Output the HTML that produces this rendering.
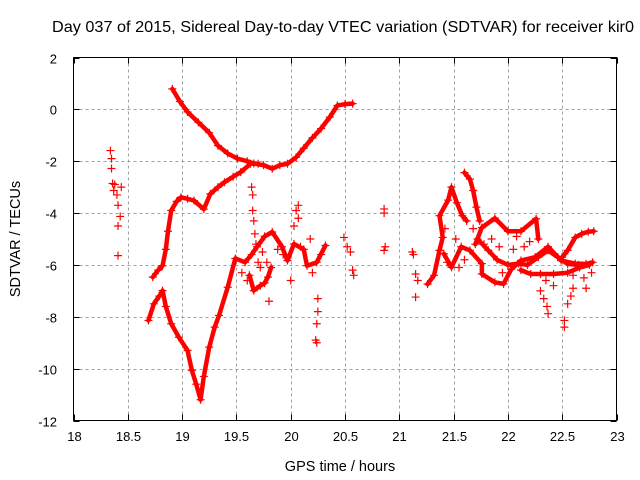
<!DOCTYPE html>
<html><head><meta charset="utf-8">
<style>
html,body{margin:0;padding:0;background:#fff;}
svg{display:block;font-family:"Liberation Sans",sans-serif;}
</style></head>
<body>
<svg id="chart" width="640" height="480" viewBox="0 0 640 480">
  <text x="343" y="32" font-size="16" text-anchor="middle" fill="#000" textLength="582" lengthAdjust="spacingAndGlyphs">Day 037 of 2015, Sidereal Day-to-day VTEC variation (SDTVAR) for receiver kir0</text>
  <g id="grid"></g>
  <g id="ticks"></g>
  <g id="tracks"></g>
  <rect x="73.5" y="57.5" width="543" height="363" fill="none" stroke="#000" stroke-width="1"/>
  <text x="340" y="471" font-size="14.5" text-anchor="middle">GPS time / hours</text>
  <text transform="translate(20,239) rotate(-90)" font-size="14.5" text-anchor="middle">SDTVAR / TECUs</text>
</svg>
<script>
const xTicks = [18,18.5,19,19.5,20,20.5,21,21.5,22,22.5,23];
const xTickLabels = ["18","18.5","19","19.5","20","20.5","21","21.5","22","22.5","23"];
const yTicks = [2,0,-2,-4,-6,-8,-10,-12];
const yTickLabels = ["2","0","-2","-4","-6","-8","-10","-12"];

// Continuous tracks: [hour, TECU]
const trackDescending = [[18.91,0.79],[18.98,0.3],[19.05,-0.1],[19.15,-0.5],[19.25,-0.9],[19.33,-1.4],[19.42,-1.7],[19.51,-1.9],[19.6,-2.0],[19.66,-2.09],[19.75,-2.15],[19.83,-2.29],[19.9,-2.15],[19.97,-2.1],[20.05,-1.85],[20.12,-1.5],[20.2,-1.1],[20.28,-0.74],[20.36,-0.3],[20.43,0.15],[20.5,0.2],[20.57,0.22]];
const trackRising = [[18.73,-6.47],[18.78,-6.2],[18.82,-6.03],[18.85,-5.4],[18.87,-4.7],[18.9,-3.9],[18.95,-3.55],[18.99,-3.39],[19.05,-3.45],[19.11,-3.52],[19.2,-3.85],[19.26,-3.26],[19.33,-3.0],[19.39,-2.81],[19.47,-2.6],[19.54,-2.42],[19.63,-2.1],[19.7,-2.1]];
const trackV = [[18.69,-8.14],[18.74,-7.5],[18.79,-7.2],[18.82,-6.99],[18.85,-7.6],[18.9,-8.27],[18.97,-8.79],[19.05,-9.3],[19.09,-10.07],[19.13,-10.6],[19.17,-11.2],[19.2,-10.3],[19.25,-9.17],[19.3,-8.4],[19.34,-7.95],[19.42,-6.86],[19.49,-5.75],[19.58,-5.9],[19.64,-5.6],[19.69,-5.3],[19.76,-4.9],[19.83,-4.73],[19.92,-5.3],[19.97,-5.83],[20.03,-5.19],[20.12,-5.4],[20.15,-6.03],[20.24,-5.9],[20.32,-5.25]];
const trackLoop = [[19.62,-6.4],[19.66,-6.99],[19.72,-6.8],[19.76,-6.7],[19.79,-6.47],[19.82,-6.1]];
const trackRight1 = [[21.26,-6.74],[21.32,-6.4],[21.37,-5.44],[21.4,-4.94],[21.37,-4.1],[21.45,-3.5],[21.48,-3.0],[21.53,-3.6],[21.58,-4.1],[21.62,-4.3]];
const trackPeak = [[21.6,-2.44],[21.65,-2.69],[21.68,-3.13],[21.71,-3.77],[21.74,-4.3]];
const trackBand = [[21.41,-5.57],[21.48,-6.09],[21.57,-5.3],[21.65,-5.44],[21.76,-5.95],[21.76,-6.35],[21.88,-6.67],[21.96,-6.73],[22.03,-6.17],[22.12,-5.83],[22.25,-5.7],[22.37,-5.3],[22.49,-5.83],[22.62,-5.95],[22.72,-5.96],[22.78,-5.9]];
const trackUpper = [[21.7,-5.2],[21.76,-4.56],[21.88,-4.2],[22.0,-4.7],[22.12,-4.7],[22.26,-4.22],[22.28,-5.0]];
const trackMiddle = [[21.72,-5.0],[21.82,-5.44],[21.9,-5.8],[22.0,-6.0],[22.1,-5.95],[22.18,-6.0],[22.28,-5.7],[22.37,-5.44],[22.46,-5.7],[22.55,-5.96],[22.65,-6.0]];
const trackLower = [[22.12,-6.2],[22.21,-6.35],[22.3,-6.35],[22.42,-6.35],[22.55,-6.3],[22.66,-6.1],[22.75,-6.0]];
const trackEnd = [[22.5,-5.7],[22.55,-5.44],[22.62,-4.94],[22.68,-4.8],[22.74,-4.72],[22.79,-4.7]];
// Scattered isolated points
const scatterPts = [[18.34,-1.59],[18.35,-1.9],[18.35,-2.28],[18.36,-2.86],[18.37,-3.13],[18.38,-2.9],[18.4,-3.3],[18.41,-3.7],[18.43,-4.13],[18.41,-4.5],[18.41,-5.64],[18.44,-3.0],
[19.64,-3.0],[19.65,-3.3],[19.65,-3.9],[19.66,-4.3],[19.67,-4.8],[19.68,-5.2],
[19.55,-6.3],[19.6,-6.6],[19.7,-5.9],[19.72,-6.1],[19.74,-5.5],[19.78,-5.9],[19.8,-7.4],[19.88,-5.4],[19.93,-5.6],
[20.05,-3.9],[20.07,-4.2],[20.07,-3.7],[20.03,-4.5],[20.0,-6.6],[20.09,-5.3],[20.18,-5.0],[20.2,-6.3],[20.28,-5.6],
[20.25,-7.3],[20.25,-7.8],[20.24,-8.27],[20.23,-8.9],[20.24,-9.0],
[20.49,-4.94],[20.52,-5.3],[20.55,-5.5],[20.57,-6.2],[20.58,-6.4],
[20.86,-3.84],[20.86,-4.0],[20.86,-5.44],[20.87,-5.3],
[21.12,-5.5],[21.13,-5.6],[21.15,-6.35],[21.17,-6.6],[21.15,-7.24],
[21.42,-4.6],[21.44,-5.9],[21.52,-5.0],[21.55,-6.1],[21.6,-5.8],[21.68,-4.6],[21.78,-5.2],[21.85,-5.0],[21.92,-5.3],[21.95,-6.3],[22.05,-5.4],[22.08,-4.9],[22.15,-5.3],[22.2,-5.1],[22.35,-6.6],[22.42,-6.8],[22.6,-6.4],[22.7,-6.5],
[22.3,-7.0],[22.33,-7.3],[22.37,-7.88],[22.36,-7.6],[22.52,-8.14],[22.52,-8.4],[22.6,-6.9],[22.55,-7.5],[22.58,-7.2],[22.72,-6.9],[22.77,-6.3]];

const X0=73.5, X1=616.5, Y0=57.5, Y1=420.5;
const sx = h => X0 + (h-18)/(23-18)*(X1-X0);
const sy = v => Y0 + (2-v)/(2-(-12))*(Y1-Y0);
const NS='http://www.w3.org/2000/svg';
const grid=document.getElementById('grid'), ticks=document.getElementById('ticks'), tracks=document.getElementById('tracks');
function mk(tag, attrs, parent){const e=document.createElementNS(NS,tag);for(const k in attrs)e.setAttribute(k,attrs[k]);parent.appendChild(e);return e;}

xTicks.forEach((t,i)=>{
  const x=Math.round(sx(t))+0.5;
  if(i>0&&i<xTicks.length-1){
    const g=mk('line',{x1:x,y1:Y0,x2:x,y2:Y1,stroke:'#a0a0a0','stroke-dasharray':'3,3','stroke-width':1},grid);
    
    
  }
  mk('line',{x1:x,y1:Y1,x2:x,y2:Y1-6,stroke:'#000'},ticks);
  mk('line',{x1:x,y1:Y0,x2:x,y2:Y0+6,stroke:'#000'},ticks);
  const tx=mk('text',{x:x,y:441,'font-size':13,'text-anchor':'middle'},ticks);
  tx.textContent=xTickLabels[i];
  
  
});
yTicks.forEach((t,i)=>{
  const y=Math.round(sy(t))+0.5;
  if(i>0&&i<yTicks.length-1){
    const g=mk('line',{x1:X0,y1:y,x2:X1,y2:y,stroke:'#a0a0a0','stroke-dasharray':'3,3','stroke-width':1},grid);
    
    
  }
  mk('line',{x1:X0,y1:y,x2:X0+6,y2:y,stroke:'#000'},ticks);
  mk('line',{x1:X1,y1:y,x2:X1-6,y2:y,stroke:'#000'},ticks);
  const tx=mk('text',{x:57,y:y+5,'font-size':13,'text-anchor':'end'},ticks);
  tx.textContent=yTickLabels[i];
  
  
});

function plus(h,v){
  const x=sx(h), y=sy(v);
  const p=mk('path',{d:`M${x-4},${y}H${x+4}M${x},${y-4}V${y+4}`,stroke:'#f00','stroke-width':1.2,fill:'none'},tracks);
  
  
}
const allTracks=[trackDescending,trackRising,trackV,trackLoop,trackRight1,trackPeak,trackBand,trackUpper,trackMiddle,trackLower,trackEnd];
allTracks.forEach(tr=>{
  const pl=mk('polyline',{points:tr.map(p=>sx(p[0])+','+sy(p[1])).join(' '),fill:'none',stroke:'#f00','stroke-width':4.5,'stroke-linejoin':'round','stroke-linecap':'round'},tracks);
  
  
  tr.forEach(p=>plus(p[0],p[1]));
});
scatterPts.forEach(p=>plus(p[0],p[1]));
</script>
</body></html>
